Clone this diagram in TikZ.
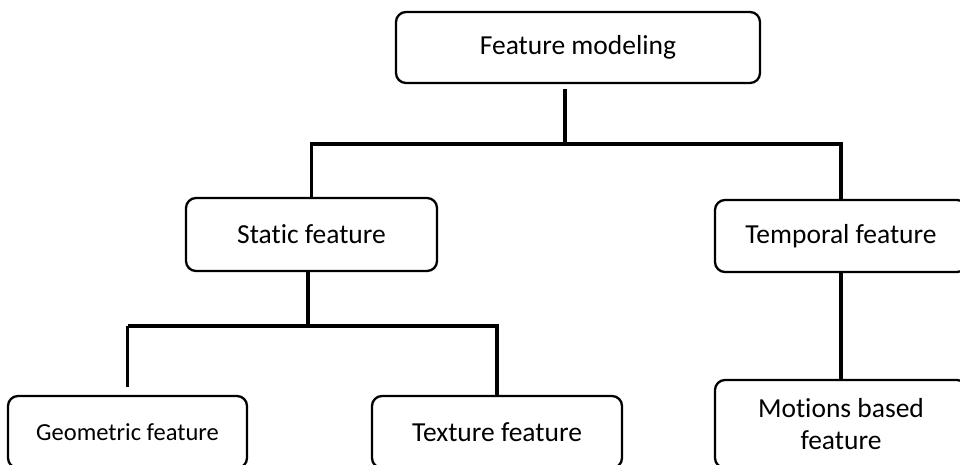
\documentclass[tikz,border=0pt]{standalone}
\usepackage{fontspec}
\setmainfont{Carlito}[Ligatures={NoCommon}]
\begin{document}
\begin{tikzpicture}[x=1pt,y=-1pt,
  box/.style={draw=black,line width=2.3pt,rounded corners=10pt,fill=white,
    inner sep=0pt,align=center,font=\fontsize{27.5}{32}\selectfont},
  conn/.style={draw=black,line width=3.6pt}]
\clip (0,0) rectangle (960,464);
\fill[white] (0,0) rectangle (960,464);

% tree nodes
\node[box,minimum width=364pt,minimum height=71pt] (fm) at (578,47.5) {Feature modeling};
\node[box,minimum width=251pt,minimum height=73pt] (sf) at (311.5,234.5) {Static feature};
\node[box,minimum width=252pt,minimum height=72pt] (tf) at (841,236) {Temporal feature};
\node[box,minimum width=239pt,minimum height=72pt,font=\fontsize{24.5}{29}\selectfont] (gf) at (127.5,432) {Geometric feature};
\node[box,minimum width=250pt,minimum height=72pt] (xf) at (497,432) {Texture feature};
\node[box,minimum width=252pt,minimum height=88pt] (mf) at (841,424) {Motions based\\feature};

% junction points of the connector buses
\coordinate (top) at (565,144);
\coordinate (mid) at (308,326);

% connectors
\draw[conn,shorten >=5pt] (top) -- (top |- fm.south);
\draw[conn] (sf.north) -- (sf.north |- top) -- (tf.north |- top) -- (tf.north);
\draw[conn] (mid) -- (mid |- sf.south);
\draw[conn] (gf.north |- mid) -- (xf.north |- mid) -- (xf.north);
\draw[conn,shorten >=8pt] (gf.north |- mid) -- (gf.north);
\draw[conn] (tf.south) -- (mf.north);
\end{tikzpicture}
\end{document}
